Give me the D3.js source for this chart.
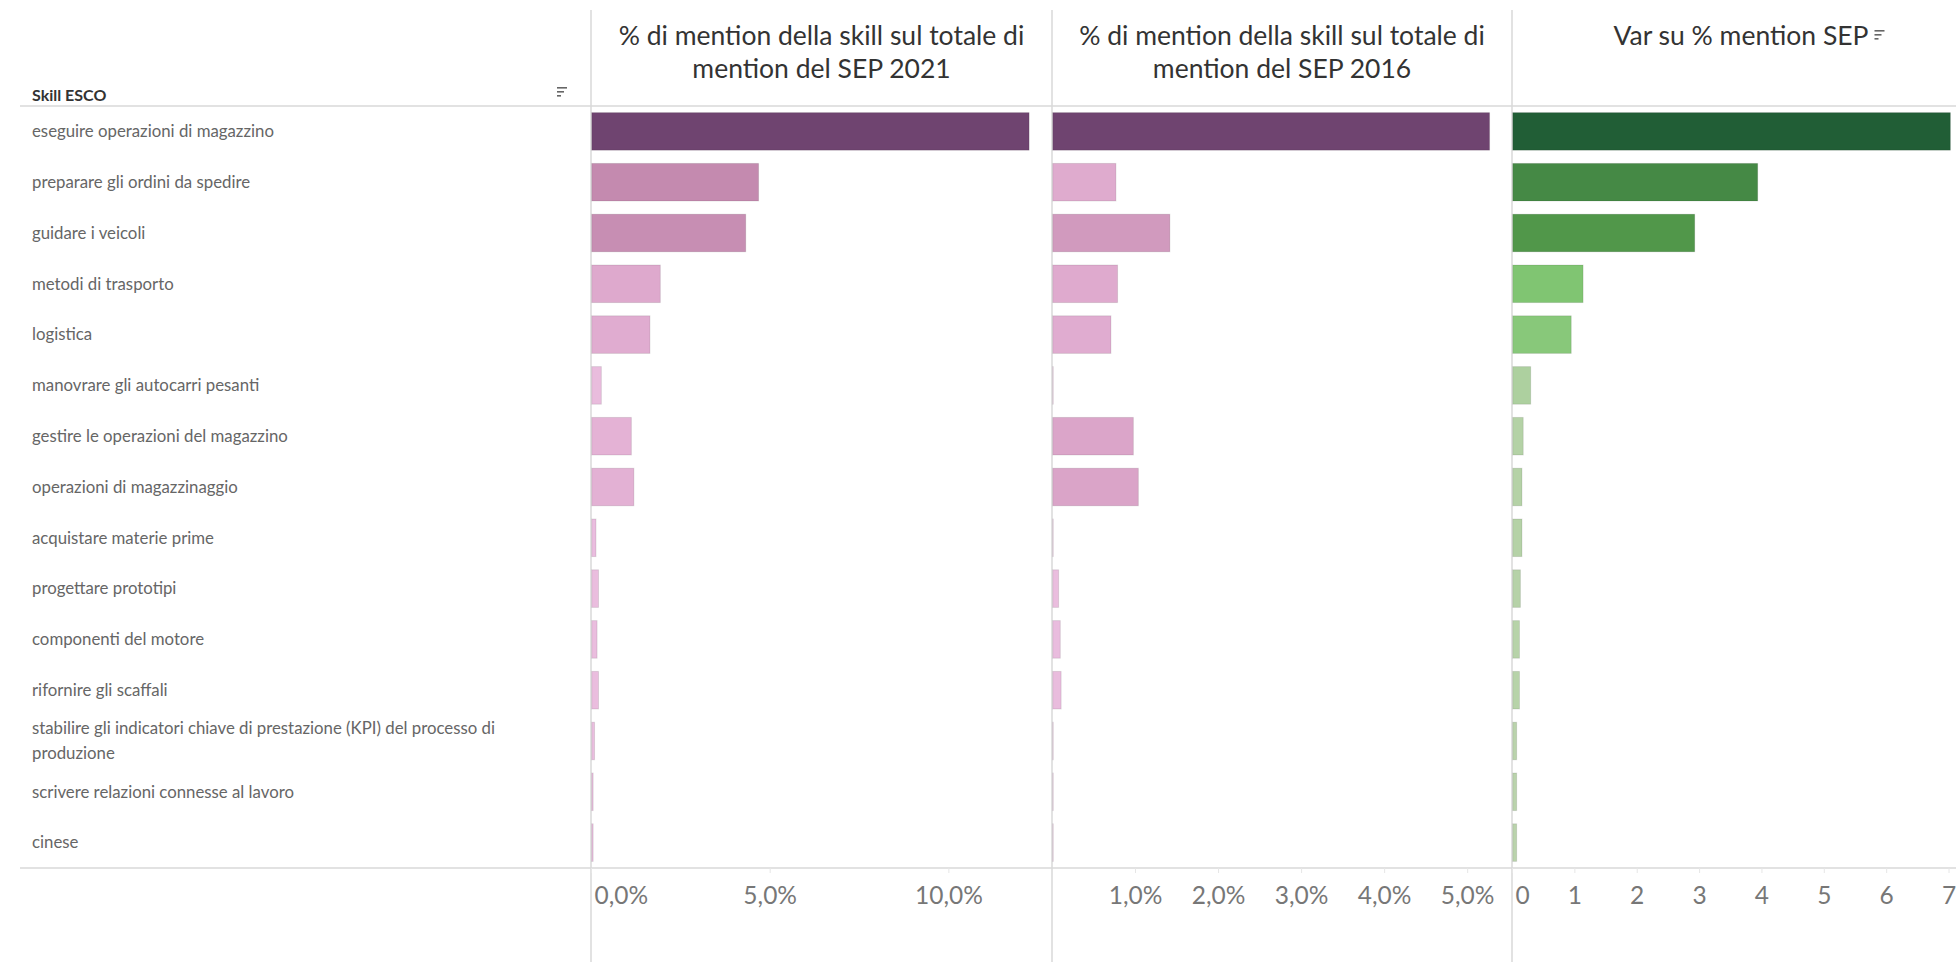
<!DOCTYPE html>
<html>
<head>
<meta charset="utf-8">
<script src="https://cdn.jsdelivr.net/npm/d3@7"></script>
<style>
  body { margin: 0; background: #fff; }
  svg { display: block; font-family: Lato, "Open Sans", sans-serif; }
</style>
</head>
<body>
<svg id="chart"></svg>
<script>
// Data (shares are fractions, var is a plain number)
const skills = [
  "eseguire operazioni di magazzino",
  "preparare gli ordini da spedire",
  "guidare i veicoli",
  "metodi di trasporto",
  "logistica",
  "manovrare gli autocarri pesanti",
  "gestire le operazioni del magazzino",
  "operazioni di magazzinaggio",
  "acquistare materie prime",
  "progettare prototipi",
  "componenti del motore",
  "rifornire gli scaffali",
  "stabilire gli indicatori chiave di prestazione (KPI) del processo di produzione",
  "scrivere relazioni connesse al lavoro",
  "cinese"
];
const share2021 = [0.1226, 0.0469, 0.0433, 0.0194, 0.0165, 0.0029, 0.0113, 0.0120, 0.0014, 0.0021, 0.0017, 0.0021, 0.0010, 0.0006, 0.0006];
const share2016 = [0.0527, 0.0077, 0.0142, 0.0079, 0.0071, 0.0001, 0.0098, 0.0104, 0.0001, 0.0008, 0.0010, 0.0011, 0.0001, 0.0001, 0.0001];
const varSep = [7.03, 3.94, 2.93, 1.14, 0.95, 0.30, 0.18, 0.16, 0.16, 0.135, 0.12, 0.12, 0.075, 0.075, 0.075];

const titles = [
  ["% di mention della skill sul totale di", "mention del SEP 2021"],
  ["% di mention della skill sul totale di", "mention del SEP 2016"],
  ["Var su % mention SEP"]
];
const ticks1 = [0, 0.05, 0.10];
const ticks2 = [0.01, 0.02, 0.03, 0.04, 0.05];
const ticks3 = [0, 1, 2, 3, 4, 5, 6, 7];

const width = 1956;
const height = 962;
const headerY = 106;  // header line
const axisY = 868;    // axis line
const labelX = 32;
const panelEdges = [591, 1052, 1512, 1956];
const purple = ["#ebbfe0", "#dfaace", "#c288ad", "#6f4470"];
const green = ["#bed4b0", "#82c774", "#52994b", "#215e36"];
const stops = [0, 0.15, 0.4, 1];

const it = d3.formatLocale({ decimal: ",", thousands: ".", grouping: [3], currency: ["€", ""] });
const pct = it.format(".1%");

const svg = d3.select("#chart").attr("width", width).attr("height", height);

const y = d3.scaleBand()
  .domain(skills)
  .range([headerY, axisY])
  .paddingInner(0.26)
  .paddingOuter(0.13);

// Grid frame
const lineColor = "#d9d9d9";
svg.selectAll(".vline")
  .data(panelEdges.slice(0, 3))
  .enter()
  .append("line")
  .attr("x1", (d) => d).attr("x2", (d) => d)
  .attr("y1", 10).attr("y2", height)
  .style("stroke", lineColor)
  .style("stroke-width", 1.5);

[headerY, axisY].forEach((yy) => {
  svg.append("line")
    .attr("x1", 20).attr("x2", width)
    .attr("y1", yy).attr("y2", yy)
    .style("stroke", lineColor)
    .style("stroke-width", 1.5);
});

// Sort icon (three shrinking bars)
const sortIcon = (x, yy) => {
  [10, 7, 4].forEach((w, i) => {
    svg.append("rect")
      .attr("x", x).attr("y", yy + i * 4)
      .attr("width", w).attr("height", 1.6)
      .attr("fill", "#666");
  });
};

// Row header
svg.append("text")
  .attr("x", labelX).attr("y", 95)
  .attr("dy", "0.35em")
  .style("font-size", "16px")
  .style("font-weight", 700)
  .style("fill", "#333")
  .text("Skill ESCO");
sortIcon(557, 87);

// Row labels, wrapped to the label column
const wrapWidth = 500;
const labels = svg.selectAll(".label")
  .data(skills)
  .enter()
  .append("text")
  .attr("class", "label")
  .attr("x", labelX)
  .attr("y", (d) => y(d) + y.bandwidth() / 2)
  .style("font-size", "16.8px")
  .style("fill", "#666");

labels.each(function (d) {
  const t = d3.select(this);
  const words = d.split(" ");
  const lines = [];
  let line = [];
  const probe = t.append("tspan");
  words.forEach((w) => {
    line.push(w);
    probe.text(line.join(" "));
    if (probe.node().getComputedTextLength() > wrapWidth && line.length > 1) {
      line.pop();
      lines.push(line.join(" "));
      line = [w];
    }
  });
  lines.push(line.join(" "));
  probe.remove();
  const lh = 25;
  lines.forEach((l, i) => {
    t.append("tspan")
      .attr("x", labelX)
      .attr("y", y(d) + y.bandwidth() / 2 + (i - (lines.length - 1) / 2) * lh)
      .attr("dy", "0.35em")
      .text(l);
  });
});

// Panels
const panels = [
  { values: share2021, max: 0.129, ticks: ticks1, fmt: pct, colors: purple },
  { values: share2016, max: 0.0554, ticks: ticks2, fmt: pct, colors: purple },
  { values: varSep, max: 7.12, ticks: ticks3, fmt: it.format("d"), colors: green }
];

panels.forEach((p, k) => {
  const x0 = panelEdges[k];
  const x1 = panelEdges[k + 1];
  const x = d3.scaleLinear().domain([0, p.max]).range([x0, x1]);
  const vmax = d3.max(p.values);
  const color = d3.scaleLinear()
    .domain(stops.map((s) => s * vmax))
    .range(p.colors)
    .clamp(true);

  const g = svg.append("g");

  g.selectAll("rect")
    .data(p.values)
    .enter()
    .append("rect")
    .attr("x", x(0) + 0.75)
    .attr("y", (d, i) => y(skills[i]))
    .attr("width", (d) => Math.max(0.5, x(d) - x(0) - 0.75))
    .attr("height", y.bandwidth())
    .attr("fill", (d) => color(d))
    .style("stroke", "rgba(0,0,0,0.1)")
    .style("stroke-width", 1);

  // Axis
  const axis = svg.append("g")
    .attr("transform", `translate(0,${axisY})`)
    .call(d3.axisBottom(x).tickValues(p.ticks).tickFormat(p.fmt).tickSize(5).tickPadding(14));
  axis.select(".domain").remove();
  axis.selectAll(".tick line").style("stroke", "#e6e6e6");
  axis.selectAll(".tick text")
    .style("font-size", "24.5px")
    .style("fill", "#777")
    .style("font-family", "Lato, sans-serif");
  axis.selectAll(".tick")
    .filter((d) => d === 0)
    .select("text")
    .attr("text-anchor", "start")
    .attr("x", 3);

  // Header
  const cx = (x0 + x1) / 2;
  const head = svg.append("text")
    .attr("text-anchor", "middle")
    .style("font-size", "26.5px")
    .style("fill", "#333");
  titles[k].forEach((l, i) => {
    head.append("tspan")
      .attr("x", cx)
      .attr("y", 36 + i * 33)
      .attr("dy", "0.35em")
      .text(l);
  });
  if (k === 2) {
    head.selectAll("tspan").attr("x", cx + 7);
    const w = head.node().getComputedTextLength();
    sortIcon(cx + 7 + w / 2 + 6, 30);
  }
});
</script>
</body>
</html>
